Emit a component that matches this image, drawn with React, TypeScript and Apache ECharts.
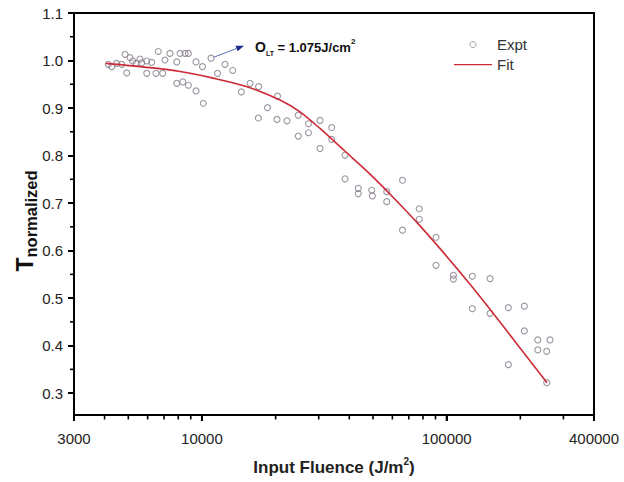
import React, { useEffect, useRef } from 'react';
import * as echarts from 'echarts';

// Experimental points (Input fluence J/m^2, normalized transmittance)
const exptX = [
  4140, 4280, 4480, 4700, 4850, 4930, 5080, 5210, 5380, 5580,
  5670, 5950, 5950, 6230, 6630, 6490, 6910, 7060, 7400, 7890,
  8140, 8530, 8800, 7890, 8350, 8800, 9460, 9460, 10050, 10130,
  10890, 11580, 12420, 13360, 14490, 15720, 17040, 20360, 18530, 17000,
  20260, 22260, 24760, 24760, 27250, 27250, 30370, 30370, 33900, 33900,
  38430, 38430, 43540, 43540, 49410, 49690, 56890, 56890, 66010, 66010,
  77230, 77230, 90480, 90480, 106500, 106500, 127300, 150400, 127300, 150400,
  178700, 207700, 207700, 235600, 264400, 235600, 256300, 178700, 256300
];
const exptY = [
  0.992, 0.987, 0.994, 0.992, 1.013, 0.974, 1.006, 0.999, 0.994, 1.003,
  0.995, 0.999, 0.973, 0.996, 1.019, 0.973, 0.973, 1.001, 1.015, 0.997,
  1.015, 1.015, 1.015, 0.952, 0.955, 0.948, 0.997, 0.936, 0.987, 0.910,
  1.005, 0.973, 0.992, 0.979, 0.934, 0.952, 0.945, 0.925, 0.901, 0.879,
  0.876, 0.873, 0.885, 0.841, 0.867, 0.848, 0.874, 0.815, 0.859, 0.834,
  0.801, 0.751, 0.731, 0.720, 0.727, 0.715, 0.724, 0.703, 0.748, 0.643,
  0.688, 0.666, 0.628, 0.569, 0.548, 0.540, 0.546, 0.541, 0.478, 0.468,
  0.480, 0.483, 0.431, 0.412, 0.412, 0.391, 0.388, 0.360, 0.322
];

// Fit curve
const fitX = [4054, 6135, 8136, 11100, 15280, 20840, 25160, 30370, 38430, 48620, 61510, 77830, 98460, 124600, 157600, 199400, 257000];
const fitY = [0.994, 0.985, 0.977, 0.963, 0.945, 0.917, 0.892, 0.857, 0.809, 0.761, 0.708, 0.652, 0.592, 0.529, 0.463, 0.395, 0.322];

// Axes
const xMin = 3000;
const xMax = 400000;
const yMin = 0.254;
const yMax = 1.1;
const xMajorTicks = [3000, 10000, 100000, 400000];
const yMajorTicks = [0.3, 0.4, 0.5, 0.6, 0.7, 0.8, 0.9, 1.0, 1.1];
const yMinorTicks = [0.35, 0.45, 0.55, 0.65, 0.75, 0.85, 0.95, 1.05];
const xMinorTicks = [4000, 5000, 6000, 7000, 8000, 9000, 20000, 30000, 40000, 50000, 60000, 70000, 80000, 90000, 200000, 300000];

// Annotation anchor (data point the arrow starts from)
const annotPoint = [10890, 1.005];

const FONT = '"Liberation Sans", Arial, Helvetica, sans-serif';
const FIT_ICON = 'path://M0,0h40v0.01H0zM0,2.4h40v1.3H0zM0,5.99h40v0.01H0z';

export default function App() {
  const ref = useRef<HTMLDivElement>(null);

  useEffect(() => {
    document.body.style.margin = '0';
    const chart = echarts.init(ref.current as HTMLDivElement, null, { renderer: 'svg' });

    const tickLine = { color: '#000', width: 2 };

    const option: any = {
      animation: false,
      backgroundColor: '#ffffff',
      grid: {
        left: 74, right: 30, top: 13, bottom: 67,
        show: true, borderColor: '#000', borderWidth: 2, backgroundColor: 'transparent'
      },
      legend: {
        orient: 'vertical',
        left: 449,
        top: 32,
        itemWidth: 38,
        itemHeight: 6,
        itemGap: 5,
        textStyle: { fontSize: 15, color: '#333', fontFamily: FONT },
        data: [
          { name: 'Expt', icon: 'circle', itemStyle: { color: 'transparent', borderColor: '#8f8794', borderWidth: 1 } },
          { name: 'Fit', icon: FIT_ICON, itemStyle: { color: '#cc2b35', borderWidth: 0 } }
        ]
      },
      xAxis: {
        type: 'log',
        logBase: 10,
        min: xMin,
        max: xMax,
        position: 'bottom',
        axisLine: { show: true, onZero: false, lineStyle: tickLine },
        axisTick: { show: true, length: 6, lineStyle: tickLine },
        axisLabel: {
          margin: 16, fontSize: 15, color: '#222', fontFamily: FONT,
          formatter: (v: number) => String(Math.round(v))
        },
        splitLine: { show: false },
        minorTick: { show: false },
        minorSplitLine: { show: false }
      },
      yAxis: {
        type: 'value',
        min: yMin,
        max: yMax,
        position: 'left',
        axisLine: { show: true, lineStyle: tickLine },
        axisTick: { show: true, length: 6, customValues: yMajorTicks, lineStyle: tickLine },
        axisLabel: {
          margin: 11, fontSize: 15, color: '#222', fontFamily: FONT,
          customValues: yMajorTicks,
          formatter: (v: number) => v.toFixed(1)
        },
        splitLine: { show: false }
      },
      series: [
        {
          name: 'Expt',
          type: 'scatter',
          symbol: 'circle',
          symbolSize: 6,
          itemStyle: { color: 'transparent', borderColor: '#857c8a', borderWidth: 1.1 },
          data: exptX.map((x, i) => [x, exptY[i]]),
          z: 3
        },
        {
          name: 'Fit',
          type: 'line',
          symbol: 'none',
          showSymbol: false,
          smooth: 0.3,
          lineStyle: { color: '#cc2b35', width: 1.6 },
          itemStyle: { color: '#cc2b35' },
          data: fitX.map((x, i) => [x, fitY[i]]),
          z: 4
        }
      ]
    };

    chart.setOption(option);

    // Tick marks placed through the chart's own axis scales
    const axisY = chart.convertToPixel({ yAxisIndex: 0 }, yMin) as number;
    const axisX = chart.convertToPixel({ xAxisIndex: 0 }, xMin) as number;
    const tickEls: any[] = [];
    xMajorTicks.forEach((v) => {
      const px = chart.convertToPixel({ xAxisIndex: 0 }, v) as number;
      tickEls.push({ type: 'line', silent: true, shape: { x1: px, y1: axisY, x2: px, y2: axisY + 6 }, style: { stroke: '#000', lineWidth: 2 } });
    });
    xMinorTicks.forEach((v) => {
      const px = chart.convertToPixel({ xAxisIndex: 0 }, v) as number;
      tickEls.push({ type: 'line', silent: true, shape: { x1: px, y1: axisY, x2: px, y2: axisY + 4.5 }, style: { stroke: '#000', lineWidth: 1.6 } });
    });
    yMinorTicks.forEach((v) => {
      const py = chart.convertToPixel({ yAxisIndex: 0 }, v) as number;
      tickEls.push({ type: 'line', silent: true, shape: { x1: axisX, y1: py, x2: axisX - 4, y2: py }, style: { stroke: '#000', lineWidth: 1.6 } });
    });

    const a = chart.convertToPixel({ gridIndex: 0 }, annotPoint) as number[];
    const sx = a[0] + 3;
    const sy = a[1] - 1;
    const tipX = sx + 30;
    const tipY = sy - 11.5;
    const dx = tipX - sx;
    const dy = tipY - sy;
    const len = Math.sqrt(dx * dx + dy * dy);
    const ux = dx / len;
    const uy = dy / len;
    const bx = tipX - 8 * ux;
    const by = tipY - 8 * uy;
    const nx = -uy;
    const ny = ux;

    chart.setOption({
      graphic: [
        ...tickEls,
        {
          type: 'line',
          shape: { x1: sx, y1: sy, x2: bx, y2: by },
          style: { stroke: '#5d6fb5', lineWidth: 1 },
          silent: true
        },
        {
          type: 'polygon',
          shape: { points: [[tipX, tipY], [bx + 3 * nx, by + 3 * ny], [bx - 3 * nx, by - 3 * ny]] },
          style: { fill: '#1c2a8c' },
          silent: true
        },
        {
          type: 'text',
          x: tipX + 11,
          y: tipY + 1.5,
          silent: true,
          style: {
            text: '{o|O}{s|LT}{t| = 1.075J/cm}{p|2}',
            verticalAlign: 'middle',
            align: 'left',
            fill: '#111',
            rich: {
              o: { fontSize: 14, fontWeight: 'bold', fontFamily: FONT, lineHeight: 20, verticalAlign: 'middle', fill: '#111' },
              s: { fontSize: 7, fontWeight: 'bold', fontFamily: FONT, lineHeight: 9, verticalAlign: 'bottom', fill: '#111' },
              t: { fontSize: 13, fontWeight: 'bold', fontFamily: FONT, lineHeight: 20, verticalAlign: 'middle', fill: '#111' },
              p: { fontSize: 8, fontWeight: 'bold', fontFamily: FONT, lineHeight: 9, verticalAlign: 'top', fill: '#111' }
            }
          }
        },
        {
          type: 'text',
          x: 334,
          y: 467,
          silent: true,
          style: {
            text: '{a|Input Fluence (J/m}{p|2}{a|)}',
            align: 'center',
            verticalAlign: 'middle',
            fill: '#222',
            rich: {
              a: { fontSize: 17, fontWeight: 'bold', fontFamily: FONT, lineHeight: 22, verticalAlign: 'middle', fill: '#222' },
              p: { fontSize: 10, fontWeight: 'bold', fontFamily: FONT, lineHeight: 12, verticalAlign: 'top', fill: '#222' }
            }
          }
        },
        {
          type: 'text',
          x: 25,
          y: 221,
          rotation: Math.PI / 2,
          silent: true,
          style: {
            text: '{t|T}{s|normalized}',
            align: 'center',
            verticalAlign: 'middle',
            fill: '#111',
            rich: {
              t: { fontSize: 23, fontWeight: 'bold', fontFamily: FONT, lineHeight: 28, verticalAlign: 'middle', fill: '#111' },
              s: { fontSize: 16.5, fontWeight: 'bold', fontFamily: FONT, lineHeight: 19, verticalAlign: 'bottom', fill: '#111' }
            }
          }
        }
      ]
    });

    return () => {
      chart.dispose();
    };
  }, []);

  return <div ref={ref} style={{ width: 624, height: 482, overflow: 'hidden' }} />;
}
